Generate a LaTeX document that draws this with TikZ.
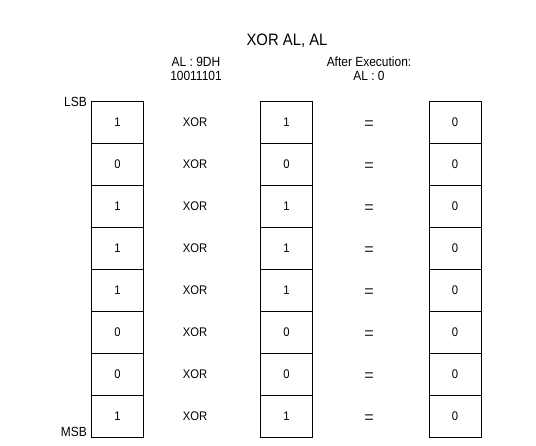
\documentclass[tikz,border=0pt]{standalone}
\usepackage{fontspec}
\setmainfont{Liberation Sans}[FakeStretch=0.9]
\begin{document}
\begin{tikzpicture}[x=1pt,y=-1pt,
  cell/.style={draw=black,line width=0.9pt,minimum width=52pt,minimum height=42pt,inner sep=0pt,font=\fontsize{12.5}{14}\selectfont},
  lbl/.style={font=\fontsize{12.5}{14}\selectfont,inner sep=0pt},
  hdr/.style={font=\fontsize{13.3}{14}\selectfont,inner sep=0pt},
  eq/.style={font=\fontsize{18}{20}\selectfont,inner sep=0pt,text=black!80},
  ttl/.style={font=\fontsize{16.5}{20}\selectfont,inner sep=0pt}]
\useasboundingbox[fill=white] (0,0) rectangle (536,446);
\node[ttl,anchor=base] (title) at (287,46) {XOR AL, AL};
\node[hdr,anchor=base] (al1) at (196,67) {AL : 9DH};
\node[hdr,anchor=base] (al2) at (196,80.5) {10011101};
\node[hdr,anchor=base] (ae1) at (369,67) {After Execution:};
\node[hdr,anchor=base] (ae2) at (369,80.5) {AL : 0};
\foreach \a [count=\i from 0] in {1,0,1,1,1,0,0,1} {
  \pgfmathsetmacro{\yy}{122+42*\i}
  \node[cell] (a\i) at (117.5,\yy) {\a};
  \node[lbl] (x\i) at (195,\yy) {XOR};
  \node[cell] (b\i) at (286.5,\yy) {\a};
  \node[eq] (e\i) at (369,\yy+3) {=};
  \node[cell] (c\i) at (455,\yy) {0};
}
\node[hdr,anchor=north east] (lsb) at (87,97.5) {LSB};
\node[hdr,anchor=base east] (msb) at (87,437) {MSB};
\end{tikzpicture}
\end{document}
